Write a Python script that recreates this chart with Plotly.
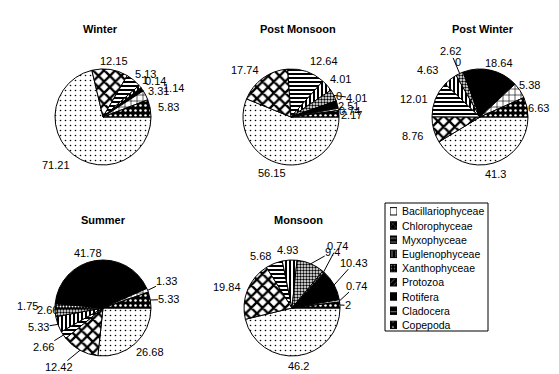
import math
import plotly.graph_objects as go

groups = ["Bacillariophyceae", "Chlorophyceae", "Myxophyceae", "Euglenophyceae",
          "Xanthophyceae", "Protozoa", "Rotifera", "Cladocera", "Copepoda"]

seasons = ["Winter", "Post Monsoon", "Post Winter", "Summer", "Monsoon"]

winter = [71.21, 12.15, 5.13, 1, 0.14, None, 1.14, 3.31, 5.83]
post_monsoon = [56.15, 17.74, 12.64, 4.01, 4.01, 0, 2.51, 0.74, 2.17]
post_winter = [41.3, 8.76, 12.01, 4.63, 2.62, 0, 18.64, 5.38, 6.63]
summer = [26.68, 12.42, 2.66, 5.33, 2.66, 1.75, 41.78, 1.33, 5.33]
monsoon = [46.2, 19.84, 5.68, 4.93, 9.4, 0.74, 10.43, 0.74, 2]

season_values = [winter, post_monsoon, post_winter, summer, monsoon]

# ---------------- layout / style constants ----------------
W, H = 559, 374
FONT = "Arial, Liberation Sans, sans-serif"
centres = [(95, 109), (283, 109), (472, 109), (95, 300), (284, 300)]
R = 48
START = 90  # first slice starts at 3 o'clock, clockwise
title_pos = [(92, 21), (290, 21), (475, 21), (95, 212), (290, 212)]

# (base colour, pattern shape, fg colour, size, solidity)
styles = [
    ("white", ".", "black", 5, 0.08),
    ("white", "x", "black", 8, 0.5),
    ("white", "-", "black", 4, 0.5),
    ("white", "|", "black", 4, 0.5),
    ("white", ".", "black", 3, 0.5),
    ("black", ".", "white", 3, 0.3),
    ("black", "", "black", 6, 0.3),
    ("white", "+", "black", 6, 0.2),
    ("black", ".", "white", 5, 0.2),
]

# small legend swatches (darker, coarse look as in the reference key)
legend_styles = [
    ("white", "", "black", 3, 0.3),
    ("black", "x", "white", 4, 0.15),
    ("black", "-", "white", 4, 0.25),
    ("black", "|", "white", 4, 0.25),
    ("black", ".", "white", 3, 0.2),
    ("black", "/", "white", 4, 0.2),
    ("black", "", "black", 3, 0.3),
    ("black", "-", "white", 5, 0.2),
    ("black", ".", "white", 6, 0.12),
]

# per-label nudges (dx, dy, leader line) for crowded labels
nudges = {
    0: {0: (0, 3, False), 1: (3, 0, False), 2: (-3, 1, False), 3: (-3, -1, False),
        4: (-1, -1, False), 6: (16, 4, False), 7: (-3, 0, False), 8: (2, 0, False)},
    1: {0: (-8, 0, False), 1: (-1, -1, False), 2: (2, -2, False), 3: (-2, 0, False),
        4: (7, 7, True), 5: (-6, -2, False), 6: (-5, 4, False), 7: (-6, 3, False), 8: (-4, 2, False)},
    2: {0: (0, 2, False), 1: (-5, 4, False), 2: (-2, 3, False), 3: (-8, -2, False),
        4: (4, -14, True), 5: (0, -2, False), 6: (6, 1, False), 7: (-6, 0, False), 8: (-5, 3, False)},
    3: {0: (-3, 2, False), 1: (-4, 9, True), 2: (-4, 7, True), 3: (-3, 0, True),
        4: (9, -4, False), 5: (-11, 0, False), 6: (-6, 1, False), 7: (3, -6, True), 8: (2, 1, True)},
    4: {0: (0, 1, False), 1: (-1, 0, False), 2: (-1, 1, False), 3: (-2, -1, False),
        4: (12, -4, True), 5: (-1, -19, True), 6: (1, -18, True), 7: (0, -14, True), 8: (-1, 1, True)},
}


def text_width(s, size=11):
    return sum((0.278 if ch == "." else 0.556) * size for ch in s)


def fmt(v):
    return ("%g" % v)


def pattern_of(st, mode="replace"):
    p = dict(shape=[s[1] for s in st], fgcolor=[s[2] for s in st],
             size=[s[3] for s in st], solidity=[s[4] for s in st], fillmode=mode)
    if mode == "replace":
        p["bgcolor"] = [s[0] for s in st]
    return p


fig = go.Figure()
annotations = []
for i, (name, vals) in enumerate(zip(seasons, season_values)):
    cx, cy = centres[i]
    fig.add_trace(go.Pie(
        labels=groups,
        values=vals,
        name=name,
        sort=False,
        direction="clockwise",
        rotation=START,
        domain=dict(x=[(cx - R) / W, (cx + R) / W], y=[1 - (cy + R) / H, 1 - (cy - R) / H]),
        marker=dict(
            colors=[s[0] for s in styles],
            line=dict(color="black", width=1),
            pattern=pattern_of(styles),
        ),
        textinfo="none",
        showlegend=False,
        hoverinfo="label+value",
    ))

    # data labels placed at each slice's mid-angle (Excel "outside end")
    total = sum(v for v in vals if v is not None)
    ang = START
    for g, v in enumerate(vals):
        if v is None:
            continue
        span = v / total * 360
        mid = math.radians(ang + span / 2)
        ang += span
        s, c = math.sin(mid), math.cos(mid)
        txt = fmt(v)
        w = text_width(txt)
        dx, dy, leader = nudges[i].get(g, (0, 0, False))
        ty = cy - (R + 9) * c + dy
        if s > 0.3:
            tx_center = cx + (R + 6) * s + w / 2 + dx
        elif s < -0.3:
            tx_center = cx + (R + 6) * s - w / 2 + dx
        else:
            tx_center = cx + (R + 9) * s + dx
        base = dict(xref="paper", yref="paper", text=txt,
                    font=dict(family=FONT, size=11, color="black"))
        if leader:
            ex, ey = cx + R * s, cy - R * c
            annotations.append(dict(base, x=ex / W, y=1 - ey / H, showarrow=True,
                                    arrowhead=0, arrowwidth=1, arrowcolor="black",
                                    ax=tx_center - ex, ay=ty - ey, standoff=0,
                                    xanchor="center", yanchor="middle", borderpad=0))
        else:
            annotations.append(dict(base, x=tx_center / W, y=1 - ty / H, showarrow=False,
                                    xanchor="center", yanchor="middle", borderpad=0))

for (tx, ty), name in zip(title_pos, seasons):
    annotations.append(dict(x=tx / W, y=1 - ty / H, xref="paper", yref="paper",
                            xanchor="center", yanchor="middle",
                            text="<b>" + name + "</b>", showarrow=False,
                            font=dict(family=FONT, size=11, color="black")))

# ---------------- legend (drawn as a small bar chart of swatches) ----------------
LEG_BOX = (377, 195, 480, 323)
ROW0, PITCH = 203.3, 14.2
n = len(groups)
fig.add_trace(go.Bar(
    y=list(range(n)), x=[1] * n, orientation="h", width=0.52,
    xaxis="x", yaxis="y", showlegend=False, hoverinfo="text", hovertext=groups,
    marker=dict(
        color=[s[0] for s in legend_styles],
        line=dict(color="black", width=1),
        pattern=pattern_of(legend_styles, mode="overlay"),
    ),
))
y_top = ROW0 - PITCH / 2
y_bot = ROW0 + PITCH * (n - 1) + PITCH / 2
for k, gname in enumerate(groups):
    annotations.append(dict(x=392 / W, y=1 - (ROW0 + PITCH * k) / H, xref="paper", yref="paper",
                            xanchor="left", yanchor="middle", text=gname, showarrow=False,
                            font=dict(family=FONT, size=10.5, color="black")))

fig.update_layout(
    width=W, height=H,
    margin=dict(l=0, r=0, t=0, b=0),
    paper_bgcolor="white",
    plot_bgcolor="white",
    annotations=annotations,
    showlegend=False,
    xaxis=dict(domain=[382 / W, 389 / W], range=[0, 1], visible=False, fixedrange=True),
    yaxis=dict(domain=[1 - y_bot / H, 1 - y_top / H], range=[n - 0.5, -0.5],
               visible=False, fixedrange=True),
    shapes=[dict(type="rect", xref="paper", yref="paper",
                 x0=LEG_BOX[0] / W, x1=LEG_BOX[2] / W,
                 y0=1 - LEG_BOX[3] / H, y1=1 - LEG_BOX[1] / H,
                 line=dict(color="black", width=1), fillcolor="rgba(0,0,0,0)")],
)

fig.write_html("out.html")
